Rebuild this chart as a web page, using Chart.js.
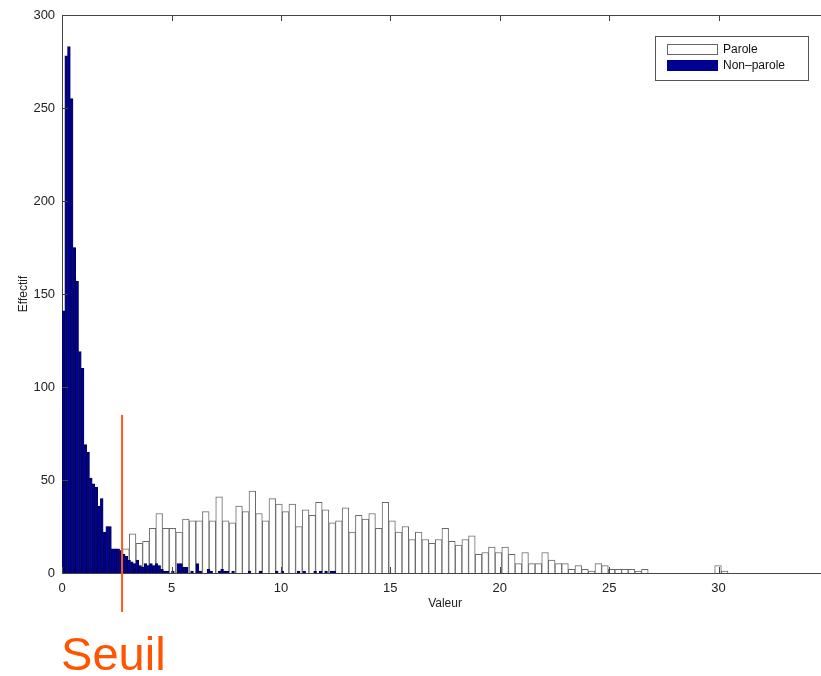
<!DOCTYPE html>
<html>
<head>
<meta charset="utf-8">
<script src="https://cdn.jsdelivr.net/npm/chart.js@4.4.1/dist/chart.umd.min.js"></script>
<style>
  html, body { margin: 0; padding: 0; background: #fff; overflow: hidden; }
  #wrap { width: 850px; height: 676px; }
</style>
</head>
<body>
<div id="wrap"><canvas id="histo" width="850" height="676"></canvas></div>
<script>
// histogramme parole : 100 classes de largeur 0.304 a partir de 0.03
const debutParole = 0.03;
const largeurParole = 0.304;
const effectifParole = [
    0, 0, 1, 1, 2, 3, 4, 7, 12, 13,
    21, 16, 17, 24, 32, 24, 24, 22, 29, 28,
    28, 33, 28, 41, 28, 27, 36, 33, 44, 32,
    28, 40, 37, 33, 37, 25, 34, 31, 38, 34,
    27, 28, 35, 22, 31, 29, 32, 24, 38, 28,
    22, 25, 18, 22, 18, 16, 18, 24, 17, 15,
    18, 20, 10, 11, 14, 11, 14, 10, 5, 11,
    5, 5, 11, 7, 5, 5, 2, 4, 2, 1,
    5, 4, 2, 2, 2, 2, 1, 2, 0, 0,
    0, 0, 0, 0, 0, 0, 0, 0, 4, 1
];

// histogramme non-parole : 100 classes de largeur 0.125 a partir de 0
const debutNonParole = 0;
const largeurNonParole = 0.125;
const effectifNonParole = [
    141, 278, 283, 255, 175, 157, 119, 110, 69, 65,
    51, 48, 46, 36, 40, 22, 25, 25, 13, 13,
    13, 12, 10, 9, 7, 6, 5, 7, 4, 3,
    5, 4, 5, 4, 5, 4, 2, 1, 1, 0,
    1, 0, 5, 5, 3, 3, 0, 1, 0, 5,
    1, 0, 0, 2, 1, 0, 0, 1, 2, 1,
    1, 0, 1, 0, 0, 0, 0, 0, 1, 0,
    0, 0, 1, 0, 0, 0, 0, 0, 1, 0,
    1, 0, 0, 0, 0, 0, 1, 0, 1, 0,
    0, 0, 1, 0, 1, 0, 1, 0, 1, 1
];

const ticksX = [0, 5, 10, 15, 20, 25, 30, 35];
const ticksY = [0, 50, 100, 150, 200, 250, 300];
const seuil = 2.74;
const seuilHaut = 85;
const legendes = ['Parole', 'Non\u2013parole'];

const centres = (debut, largeur, n) =>
    Array.from({ length: n }, (_, i) => debut + largeur * (i + 0.5));

const xParole = centres(debutParole, largeurParole, effectifParole.length);
const xNonParole = centres(debutNonParole, largeurNonParole, effectifNonParole.length);

const police = 'Liberation Sans, Arial, Helvetica, sans-serif';

// cadre complet avec graduations vers l'interieur
const cadre = {
    id: 'cadre',
    afterDatasetsDraw(chart) {
        const { ctx, chartArea: a, scales } = chart;
        ctx.save();
        ctx.strokeStyle = '#444';
        ctx.lineWidth = 1;
        ctx.beginPath();
        ctx.moveTo(a.left, a.top + 0.5);
        ctx.lineTo(a.right, a.top + 0.5);
        ctx.moveTo(a.right - 0.5, a.top);
        ctx.lineTo(a.right - 0.5, a.bottom);
        scales.x.ticks.forEach((t, i) => {
            const px = Math.round(scales.x.getPixelForTick(i)) + 0.5;
            ctx.moveTo(px, a.bottom);
            ctx.lineTo(px, a.bottom - 6);
            ctx.moveTo(px, a.top);
            ctx.lineTo(px, a.top + 6);
        });
        scales.y.ticks.forEach((t, i) => {
            const py = Math.round(scales.y.getPixelForTick(i)) + 0.5;
            ctx.moveTo(a.left, py);
            ctx.lineTo(a.left + 6, py);
            ctx.moveTo(a.right, py);
            ctx.lineTo(a.right - 6, py);
        });
        ctx.stroke();
        ctx.restore();
    }
};

// legende dans le cadre, en haut a droite
const legendeCadre = {
    id: 'legendeCadre',
    afterDraw(chart) {
        const { ctx, chartArea: a } = chart;
        const x0 = a.right - 173, y0 = a.top + 21;
        ctx.save();
        ctx.fillStyle = '#fff';
        ctx.fillRect(x0, y0, 153, 44);
        ctx.strokeStyle = '#555';
        ctx.lineWidth = 1;
        ctx.strokeRect(x0 + 0.5, y0 + 0.5, 153, 44);
        ctx.strokeStyle = '#666';
        ctx.strokeRect(x0 + 12.5, y0 + 8.5, 50, 10);
        ctx.fillStyle = '#000090';
        ctx.fillRect(x0 + 12, y0 + 24, 51, 11);
        ctx.fillStyle = '#111';
        ctx.font = '12px ' + police;
        ctx.textBaseline = 'middle';
        ctx.fillText(legendes[0], x0 + 68, y0 + 14);
        ctx.fillText(legendes[1], x0 + 68, y0 + 30);
        ctx.restore();
    }
};

// ligne de seuil et son etiquette
const ligneSeuil = {
    id: 'ligneSeuil',
    afterDraw(chart) {
        const { ctx, chartArea: a, scales } = chart;
        const px = scales.x.getPixelForValue(seuil);
        ctx.save();
        ctx.strokeStyle = '#ff5a1e';
        ctx.lineWidth = 2;
        ctx.beginPath();
        ctx.moveTo(px, scales.y.getPixelForValue(seuilHaut));
        ctx.lineTo(px, a.bottom + 39);
        ctx.stroke();
        ctx.fillStyle = '#ff5500';
        ctx.font = '47px ' + police;
        ctx.textBaseline = 'alphabetic';
        ctx.fillText('Seuil', a.left - 1, 670);
        ctx.restore();
    }
};

const ctx = document.getElementById('histo').getContext('2d');
new Chart(ctx, {
    type: 'bar',
    data: {
        datasets: [{
            label: legendes[1],
            data: xNonParole.map((x, i) => ({ x: x, y: effectifNonParole[i] })),
            xAxisID: 'x2',
            backgroundColor: '#000090',
            borderColor: '#00002e',
            borderWidth: 0.6,
            borderSkipped: 'start',
            barPercentage: 1,
            categoryPercentage: 1,
            grouped: false,
            order: 0
        }, {
            label: legendes[0],
            data: xParole.map((x, i) => ({ x: x, y: effectifParole[i] })),
            xAxisID: 'x',
            backgroundColor: '#ffffff',
            borderColor: '#6a6a6a',
            borderWidth: 1,
            borderSkipped: 'start',
            barPercentage: 1,
            categoryPercentage: 1,
            grouped: false,
            order: 1
        }]
    },
    options: {
        responsive: false,
        animation: false,
        layout: { padding: { top: 15, left: 4, right: 22, bottom: 65 } },
        plugins: {
            legend: { display: false },
            tooltip: { enabled: false }
        },
        scales: {
            x: {
                type: 'linear',
                min: 0,
                max: 35,
                offset: false,
                afterBuildTicks: (s) => { s.ticks = ticksX.map(v => ({ value: v })); },
                grid: { display: false, drawTicks: false, offset: false },
                border: { display: true, color: '#444', width: 1 },
                ticks: { color: '#222', padding: 8, font: { family: police, size: 13 } },
                title: { display: true, text: 'Valeur', color: '#222', padding: { top: -8, bottom: 0 }, font: { family: police, size: 12 } }
            },
            x2: {
                type: 'linear',
                min: 0,
                max: 35,
                offset: false,
                display: false
            },
            y: {
                min: 0,
                max: 300,
                afterBuildTicks: (s) => { s.ticks = ticksY.map(v => ({ value: v })); },
                grid: { display: false, drawTicks: false },
                border: { display: true, color: '#444', width: 1 },
                ticks: { color: '#222', padding: 7, font: { family: police, size: 13 } },
                title: { display: true, text: 'Effectif', color: '#222', padding: { top: 12, bottom: -4 }, font: { family: police, size: 12 } }
            }
        }
    },
    plugins: [cadre, legendeCadre, ligneSeuil]
});
</script>
</body>
</html>
